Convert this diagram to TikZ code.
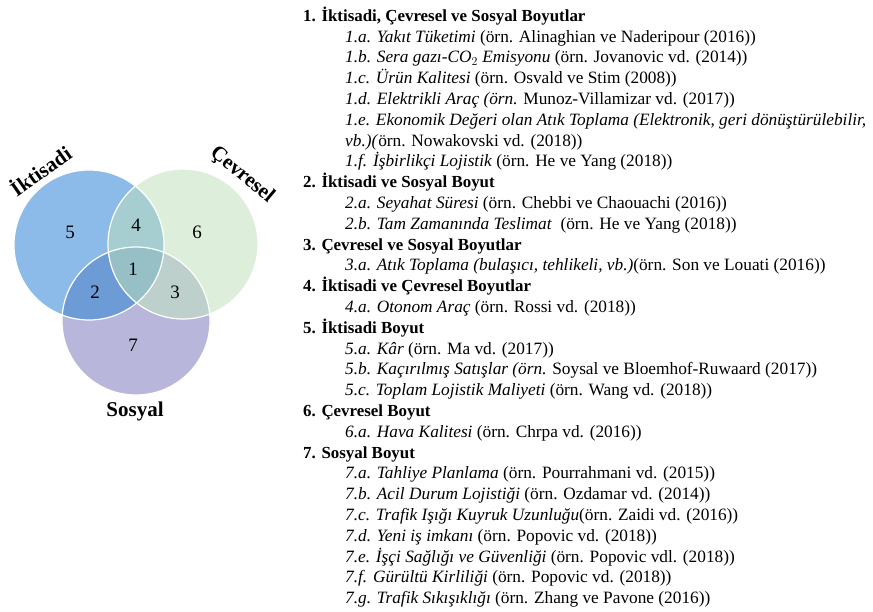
\documentclass[tikz,border=0pt]{standalone}
\usepackage{fontspec}
\setmainfont{Liberation Serif}
\usepackage{tikz}
\usetikzlibrary{positioning}
\definecolor{DimE}{HTML}{8DBBE9}
\definecolor{DimC}{HTML}{DDEFDB}
\definecolor{DimS}{HTML}{B8B6DA}
\definecolor{DimES}{HTML}{6C9BD5}
\definecolor{DimEC}{HTML}{A6CDCF}
\definecolor{DimCS}{HTML}{BED0CB}
\definecolor{DimAll}{HTML}{97C0C6}

\begin{document}
\begin{tikzpicture}[x=1pt, y=-1pt,
  hdr/.style={anchor=west, inner sep=0pt, font=\fontsize{16.9}{19}\selectfont\bfseries,
              text height=12pt, text depth=3.5pt},
  itm/.style={anchor=west, inner sep=0pt, font=\fontsize{17.3}{19}\selectfont,
              text height=12pt, text depth=3.5pt},
  num/.style={font=\fontsize{19}{21}\selectfont},
  dimlab/.style={font=\fontsize{21}{24}\selectfont\bfseries},
  ring/.style={draw=white, line width=1.2pt}]
\useasboundingbox (0,0) rectangle (873,612);
% venn centres
\coordinate (cE) at (89,245);
\coordinate (cC) at (183,244);
\coordinate (cS) at (136,321);
\fill[DimE] (cE) circle (75pt);
\fill[DimC] (cC) circle (75pt);
\fill[DimS] (cS) circle (74pt);
\begin{scope}
  \clip (cE) circle (75pt);
  \fill[DimEC] (cC) circle (75pt);
  \fill[DimES] (cS) circle (74pt);
\end{scope}
\begin{scope}
  \clip (cC) circle (75pt);
  \fill[DimCS] (cS) circle (74pt);
  \clip (cE) circle (75pt);
  \fill[DimAll] (cS) circle (74pt);
\end{scope}
\draw[ring] (cE) circle (75pt);
\draw[ring] (cC) circle (75pt);
\draw[ring] (cS) circle (74pt);
\node[num] (n5) at (70,232) {5};
\node[num] (n4) at (136,225) {4};
\node[num] (n6) at (197,232) {6};
\node[num] (n1) at (133,269) {1};
\node[num] (n2) at (95,292) {2};
\node[num] (n3) at (175,292) {3};
\node[num] (n7) at (133,345) {7};
\node[dimlab, rotate=35] (lE) at (40,170) {İktisadi};
\node[dimlab, rotate=-40] (lC) at (242,175) {Çevresel};
\node[dimlab] (lS) at (135,411) {Sosyal};
% list
\node[hdr] (h1) at (303,17) {1. İktisadi, Çevresel ve Sosyal Boyutlar};
\node[itm] (i1a) at (345,37.8) {\textit{1.a. Yakıt Tüketimi} (örn. Alinaghian ve Naderipour (2016))};
\node[itm] (i1b) at (345,58.6) {\textit{1.b. Sera gazı-CO$_2$ Emisyonu} (örn. Jovanovic vd. (2014))};
\node[itm] (i1c) at (345,79.4) {\textit{1.c. Ürün Kalitesi} (örn. Osvald ve Stim (2008))};
\node[itm] (i1d) at (345,100.2) {\textit{1.d. Elektrikli Araç (örn.} Munoz-Villamizar vd. (2017))};
\node[itm] (i1e) at (345,121) {\textit{1.e. Ekonomik Değeri olan Atık Toplama (Elektronik, geri dönüştürülebilir,}};
\node[itm] (i1e2) at (345,141.8) {\textit{vb.)(}örn. Nowakovski vd. (2018))};
\node[itm] (i1f) at (345,162.6) {\textit{1.f. İşbirlikçi Lojistik} (örn. He ve Yang (2018))};
\node[hdr] (h2) at (303,183.4) {2. İktisadi ve Sosyal Boyut};
\node[itm] (i2a) at (345,204.2) {\textit{2.a. Seyahat Süresi} (örn. Chebbi ve Chaouachi (2016))};
\node[itm] (i2b) at (345,225) {\textit{2.b. Tam Zamanında Teslimat}\ \ (örn. He ve Yang (2018))};
\node[hdr] (h3) at (303,245.8) {3. Çevresel ve Sosyal Boyutlar};
\node[itm] (i3a) at (345,266.6) {\textit{3.a. Atık Toplama (bulaşıcı, tehlikeli, vb.)}(örn. Son ve Louati (2016))};
\node[hdr] (h4) at (303,287.4) {4. İktisadi ve Çevresel Boyutlar};
\node[itm] (i4a) at (345,308.2) {\textit{4.a. Otonom Araç} (örn. Rossi vd. (2018))};
\node[hdr] (h5) at (303,329) {5. İktisadi Boyut};
\node[itm] (i5a) at (345,349.8) {\textit{5.a. Kâr} (örn. Ma vd. (2017))};
\node[itm] (i5b) at (345,370.6) {\textit{5.b. Kaçırılmış Satışlar (örn.} Soysal ve Bloemhof-Ruwaard (2017))};
\node[itm] (i5c) at (345,391.4) {\textit{5.c. Toplam Lojistik Maliyeti} (örn. Wang vd. (2018))};
\node[hdr] (h6) at (303,412.2) {6. Çevresel Boyut};
\node[itm] (i6a) at (345,433) {\textit{6.a. Hava Kalitesi} (örn. Chrpa vd. (2016))};
\node[hdr] (h7) at (303,453.8) {7. Sosyal Boyut};
\node[itm] (i7a) at (345,474.6) {\textit{7.a. Tahliye Planlama} (örn. Pourrahmani vd. (2015))};
\node[itm] (i7b) at (345,495.4) {\textit{7.b. Acil Durum Lojistiği} (örn. Ozdamar vd. (2014))};
\node[itm] (i7c) at (345,516.2) {\textit{7.c. Trafik Işığı Kuyruk Uzunluğu}(örn. Zaidi vd. (2016))};
\node[itm] (i7d) at (345,537) {\textit{7.d. Yeni iş imkanı} (örn. Popovic vd. (2018))};
\node[itm] (i7e) at (345,557.8) {\textit{7.e. İşçi Sağlığı ve Güvenliği} (örn. Popovic vdl. (2018))};
\node[itm] (i7f) at (345,578.6) {\textit{7.f. Gürültü Kirliliği} (örn. Popovic vd. (2018))};
\node[itm] (i7g) at (345,599.4) {\textit{7.g. Trafik Sıkışıklığı} (örn. Zhang ve Pavone (2016))};
\end{tikzpicture}
\end{document}
